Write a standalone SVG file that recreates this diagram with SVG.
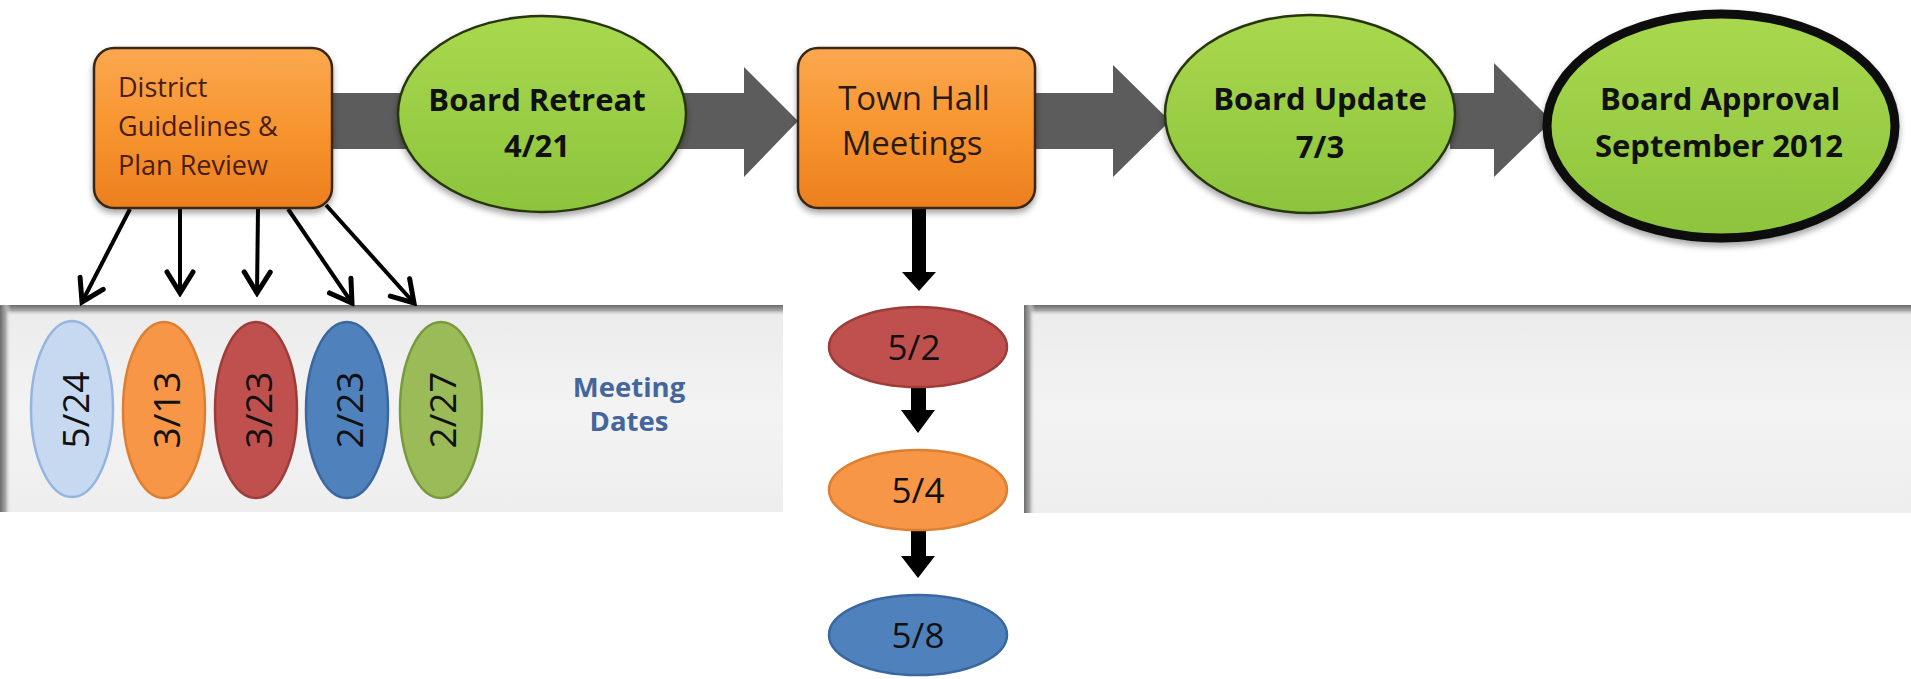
<svg xmlns="http://www.w3.org/2000/svg" width="1911" height="679" viewBox="0 0 1911 679">
<defs>
<linearGradient id="gOrange" x1="0" y1="0" x2="0" y2="1">
<stop offset="0" stop-color="#fba850"/><stop offset="0.5" stop-color="#f7952f"/><stop offset="1" stop-color="#ec7f1e"/>
</linearGradient>
<linearGradient id="gGreen" x1="0" y1="0" x2="0" y2="1">
<stop offset="0" stop-color="#a9d84e"/><stop offset="1" stop-color="#8cc43c"/>
</linearGradient>
<linearGradient id="topShade" x1="0" y1="0" x2="0" y2="1">
<stop offset="0" stop-color="#6a6a6a"/><stop offset="0.5" stop-color="#a8a8a8"/><stop offset="1" stop-color="#ececec" stop-opacity="0"/>
</linearGradient>
<linearGradient id="leftShade" x1="0" y1="0" x2="1" y2="0">
<stop offset="0" stop-color="#6a6a6a"/><stop offset="0.5" stop-color="#a8a8a8"/><stop offset="1" stop-color="#ececec" stop-opacity="0"/>
</linearGradient>
<linearGradient id="panelFill" x1="0" y1="0" x2="0" y2="1">
<stop offset="0" stop-color="#ebebeb"/><stop offset="0.5" stop-color="#f3f3f3"/><stop offset="1" stop-color="#eeeeee"/>
</linearGradient>
<filter id="shadow" x="-20%" y="-20%" width="140%" height="150%">
<feDropShadow dx="0" dy="4" stdDeviation="3" flood-color="#000" flood-opacity="0.35"/>
</filter>
<marker id="vhead" viewBox="0 0 28 32" refX="24" refY="16" markerWidth="28" markerHeight="32" markerUnits="userSpaceOnUse" orient="auto">
<path d="M3,3 L24,16 L3,29" fill="none" stroke="#000" stroke-width="5" stroke-linejoin="miter" stroke-linecap="round"/>
</marker>
</defs>
<style>
.box{fill:url(#gOrange);stroke:#3a2818;stroke-width:2.5;filter:url(#shadow)}
.green{fill:url(#gGreen);stroke:#27350f;stroke-width:2.5;filter:url(#shadow)}
.gray{fill:#5c5c5c}
.thin{stroke:#000;stroke-width:4;fill:none;marker-end:url(#vhead)}
.thick{fill:#000}
.t{font-family:"Open Sans","Noto Sans",sans-serif}
.boxt{fill:#4a1c16;font-size:27px}
.bold{font-weight:bold;fill:#111;font-size:31px}
.reg{fill:#2a1a12;font-size:33px}
.date{fill:#111;font-size:37px}
.dateh{fill:#111;font-size:35px}
.md{font-weight:bold;fill:#44669a;font-size:27.5px}
</style>

<g id="panels">
<rect x="0" y="305" width="783" height="207" fill="url(#panelFill)"/>
<rect x="0" y="305" width="783" height="11" fill="url(#topShade)"/>
<rect x="0" y="305" width="11" height="207" fill="url(#leftShade)"/>
<rect x="1024" y="305" width="887" height="208" fill="url(#panelFill)"/>
<rect x="1024" y="305" width="887" height="11" fill="url(#topShade)"/>
<rect x="1024" y="305" width="11" height="208" fill="url(#leftShade)"/>
</g>

<g id="connectors">
<polygon class="gray" points="330,93 744,93 744,67 798,121 744,177 744,149 330,149"/>
<polygon class="gray" points="1033,93 1113,93 1113,65 1170,121 1113,177 1113,149 1033,149"/>
<polygon class="gray" points="1450,93 1494,93 1494,63 1552,121 1494,177 1494,149 1450,149"/>
<line class="thin" x1="130" y1="209" x2="82" y2="302"/>
<line class="thin" x1="180" y1="209" x2="180" y2="293"/>
<line class="thin" x1="258" y1="209" x2="257" y2="293"/>
<line class="thin" x1="288" y1="209" x2="352" y2="303"/>
<line class="thin" x1="326" y1="205" x2="414" y2="303"/>
<polygon class="thick" points="912,208 926,208 926,272 936,272 919,291 902,272 912,272"/>
<polygon class="thick" points="911,387 926,387 926,410 935,410 918,433 901,410 911,410"/>
<polygon class="thick" points="911,530 926,530 926,556 935,556 918,578 901,556 911,556"/>
</g>

<g id="district">
<rect class="box" x="94" y="48" width="238" height="160" rx="20" ry="20"/>
<text class="t boxt" x="118" y="97">District</text>
<text class="t boxt" x="118" y="136">Guidelines &amp;</text>
<text class="t boxt" x="118" y="175">Plan Review</text>
</g>

<g id="board-retreat">
<ellipse class="green" cx="542" cy="114" rx="144" ry="98"/>
<text class="t bold" x="537" y="111" text-anchor="middle">Board Retreat</text>
<text class="t bold" x="537" y="157" text-anchor="middle">4/21</text>
</g>

<g id="town-hall">
<rect class="box" x="798" y="48" width="237" height="160" rx="20" ry="20"/>
<text class="t reg" x="914" y="110" text-anchor="middle">Town Hall</text>
<text class="t reg" x="912" y="155" text-anchor="middle">Meetings</text>
</g>

<g id="board-update">
<ellipse class="green" cx="1310" cy="114" rx="145" ry="99"/>
<text class="t bold" x="1320" y="110" text-anchor="middle">Board Update</text>
<text class="t bold" x="1320" y="158" text-anchor="middle">7/3</text>
</g>

<g id="board-approval">
<ellipse class="green" cx="1721" cy="126" rx="174" ry="112" style="stroke:#0d0d0d;stroke-width:9"/>
<text class="t bold" x="1720" y="110" text-anchor="middle">Board Approval</text>
<text class="t bold" x="1719" y="157" text-anchor="middle">September 2012</text>
</g>

<g id="d-5-24">
<ellipse cx="72" cy="409" rx="41" ry="88" fill="#c6d9f1" stroke="#93b5e0" stroke-width="2.5"/>
<text class="t date" transform="translate(89,410) rotate(-90)" text-anchor="middle">5/24</text>
</g>
<g id="d-3-13">
<ellipse cx="164" cy="410" rx="41" ry="88" fill="#f79646" stroke="#dc7f30" stroke-width="2.5"/>
<text class="t date" transform="translate(180,410) rotate(-90)" text-anchor="middle">3/13</text>
</g>
<g id="d-3-23">
<ellipse cx="256" cy="410" rx="41" ry="88" fill="#c0504d" stroke="#9e3c3a" stroke-width="2.5"/>
<text class="t date" transform="translate(272,410) rotate(-90)" text-anchor="middle">3/23</text>
</g>
<g id="d-2-23">
<ellipse cx="347" cy="410" rx="41" ry="88" fill="#4f81bd" stroke="#3a679f" stroke-width="2.5"/>
<text class="t date" transform="translate(363,410) rotate(-90)" text-anchor="middle">2/23</text>
</g>
<g id="d-2-27">
<ellipse cx="441" cy="410" rx="41" ry="88" fill="#9bbb59" stroke="#789a3c" stroke-width="2.5"/>
<text class="t date" transform="translate(456,410) rotate(-90)" text-anchor="middle">2/27</text>
</g>

<g id="meeting-dates">
<text class="t md" x="629" y="397" text-anchor="middle">Meeting</text>
<text class="t md" x="629" y="431" text-anchor="middle">Dates</text>
</g>

<g id="d-5-2">
<ellipse cx="918" cy="347" rx="89" ry="40" fill="#c0504d" stroke="#9e3c3a" stroke-width="2.5"/>
<text class="t dateh" x="914" y="360" text-anchor="middle">5/2</text>
</g>
<g id="d-5-4">
<ellipse cx="918" cy="490" rx="89" ry="40" fill="#f79646" stroke="#dc7f30" stroke-width="2.5"/>
<text class="t dateh" x="918" y="503" text-anchor="middle">5/4</text>
</g>
<g id="d-5-8">
<ellipse cx="918" cy="635" rx="89" ry="40" fill="#4f81bd" stroke="#3a679f" stroke-width="2.5"/>
<text class="t dateh" x="918" y="648" text-anchor="middle">5/8</text>
</g>
</svg>
